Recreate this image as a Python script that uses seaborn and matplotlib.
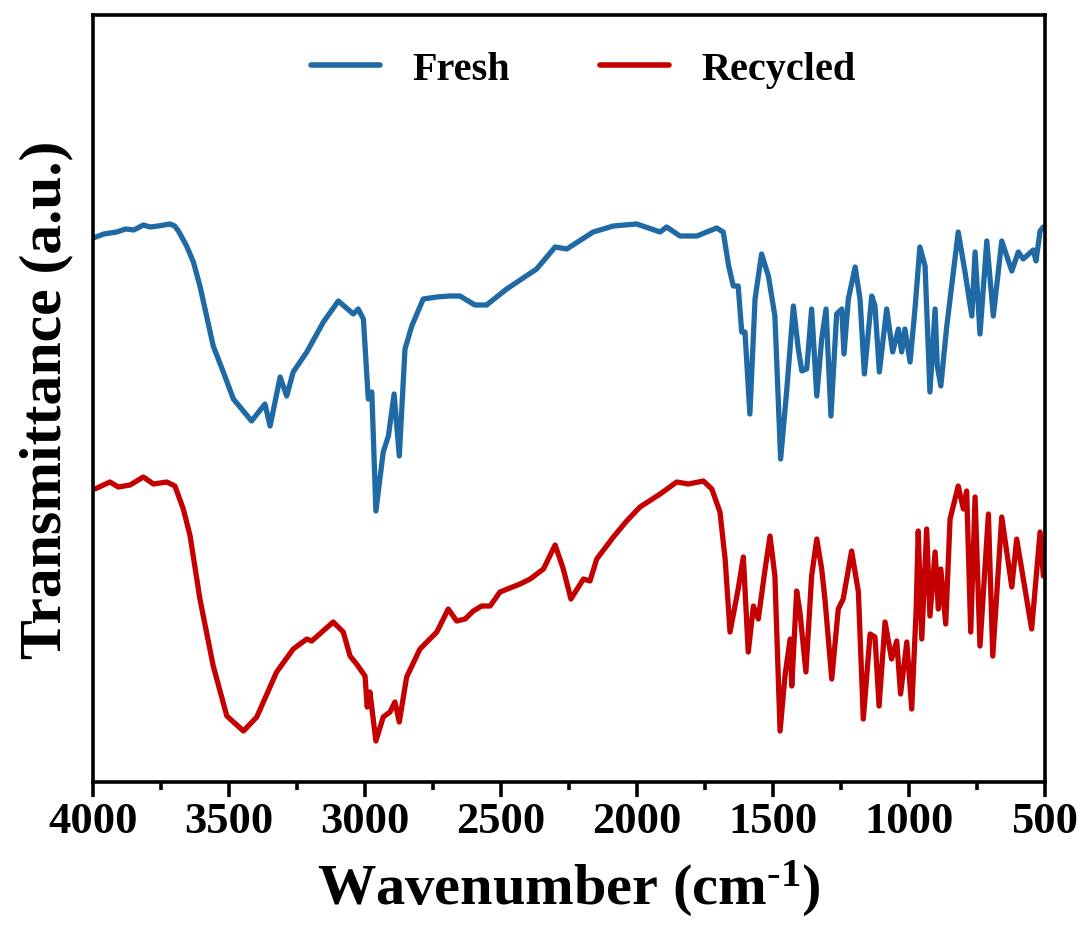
import matplotlib
matplotlib.use("Agg")
import matplotlib.pyplot as plt
from matplotlib.ticker import MultipleLocator
import pandas as pd
import seaborn as sns

# FTIR spectra: wavenumber (cm^-1) and transmittance (a.u.)
fresh_wn = [3999, 3960, 3913, 3880, 3850, 3815, 3790, 3760, 3717, 3700, 3686, 3656, 3631, 3607,
            3558, 3521, 3484, 3417, 3368, 3349, 3312, 3288, 3264, 3214, 3153, 3098,
            3043, 3025, 3006, 2988, 2975, 2960, 2933, 2914, 2893, 2874, 2853, 2828,
            2786, 2736, 2687, 2651, 2596, 2553, 2479, 2369, 2301, 2258, 2161, 2087,
            2001, 1915, 1891, 1842, 1780, 1707, 1683, 1663, 1646, 1628, 1615, 1603,
            1585, 1566, 1542, 1517, 1493, 1472, 1450, 1425, 1407, 1394, 1376, 1358,
            1339, 1321, 1305, 1287, 1266, 1247, 1239, 1223, 1198, 1180, 1164, 1137,
            1125, 1109, 1082, 1060, 1039, 1027, 1015, 996, 978, 960, 941, 923, 904,
            896, 883, 861, 819, 794, 769, 757, 739, 714, 690, 659, 622, 598, 580,
            543, 533, 518, 506]
fresh_t = [54.4, 54.8, 55.0, 55.3, 55.2, 55.7, 55.5, 55.6, 55.8, 55.6, 55.1, 53.6, 52.0, 49.6,
           43.6, 41.0, 38.3, 36.1, 37.8, 35.6, 40.5, 38.6, 41.0, 43.0, 46.0, 48.1,
           46.8, 47.3, 46.3, 38.3, 39.0, 27.1, 33.0, 34.6, 38.8, 32.6, 43.3, 45.6,
           48.3, 48.5, 48.6, 48.6, 47.7, 47.7, 49.3, 51.3, 53.5, 53.3, 55.0, 55.6,
           55.8, 55.0, 55.5, 54.6, 54.6, 55.4, 55.0, 51.6, 49.6, 49.6, 45.0, 45.0,
           36.8, 48.3, 52.8, 50.6, 46.6, 32.3, 39.0, 47.6, 43.3, 41.1, 41.3, 47.3,
           38.6, 44.3, 47.3, 36.6, 46.8, 47.3, 42.8, 48.3, 51.5, 48.3, 40.8, 48.6,
           47.6, 41.0, 47.3, 43.0, 45.3, 43.0, 45.3, 42.0, 47.3, 53.5, 51.6, 39.0, 47.3,
           41.6, 39.6, 45.6, 55.0, 51.0, 46.6, 53.0, 44.8, 54.1, 46.6, 54.1, 51.1, 53.0, 52.3,
           53.2, 52.1, 55.1, 55.5]

recycled_wn = [3993, 3938, 3907, 3864, 3815, 3778, 3729, 3699, 3668, 3643, 3607, 3558,
               3508, 3447, 3398, 3325, 3264, 3214, 3196, 3117, 3080, 3055, 3031, 3000,
               2992, 2982, 2960, 2933, 2908, 2890, 2874, 2847, 2798, 2736, 2694, 2663,
               2632, 2602, 2571, 2540, 2504, 2430, 2393, 2344, 2301, 2271, 2243, 2197,
               2173, 2148, 2087, 2038, 1989, 1915, 1854, 1811, 1756, 1725, 1695, 1676,
               1658, 1628, 1609, 1591, 1572, 1554, 1529, 1511, 1493, 1474, 1456, 1437,
               1431, 1413, 1401, 1379, 1358, 1339, 1321, 1309, 1284, 1260, 1242, 1211,
               1186, 1168, 1143, 1125, 1110, 1088, 1064, 1045, 1031, 1008, 990, 974,
               966, 953, 935, 923, 904, 892, 883, 865, 849, 819, 800, 788, 773, 757,
               739, 708, 692, 659, 622, 604, 549, 518, 506]
recycled_t = [29.3, 30.0, 29.5, 29.7, 30.5, 29.8, 30.0, 29.6, 27.3, 24.6, 18.3, 11.6,
              6.6, 5.1, 6.5, 11.0, 13.3, 14.3, 14.1, 16.0, 15.0, 12.6, 11.8, 10.6,
              7.5, 9.0, 4.1, 6.5, 7.0, 8.0, 6.0, 10.5, 13.3, 15.0, 17.3, 16.1,
              16.3, 17.1, 17.6, 17.6, 19.0, 19.8, 20.3, 21.3, 23.7, 21.3, 18.3, 20.3,
              20.1, 22.3, 24.5, 26.1, 27.5, 28.8, 30.0, 29.8, 30.1, 29.3, 27.0, 22.3,
              15.0, 19.3, 22.5, 13.0, 17.6, 16.3, 21.3, 24.6, 20.6, 5.1, 10.6, 14.3,
              9.6, 19.1, 17.0, 11.0, 20.6, 24.3, 21.3, 18.3, 10.3, 17.3, 18.3, 23.1,
              19.0, 6.3, 14.8, 14.5, 7.6, 16.0, 12.3, 14.1, 8.8, 14.0, 7.3, 17.0,
              25.1, 14.3, 25.3, 16.6, 23.0, 17.3, 21.3, 15.8, 26.3, 29.6, 27.3, 29.1, 15.0, 28.5,
              13.6, 26.8, 12.6, 26.5, 19.5, 24.3, 15.3, 25.0, 20.6]

series_names = ["Fresh", "Recycled"]
series_colors = ["#1f6aa5", "#c40000"]

df = pd.concat([
    pd.DataFrame({"wn": fresh_wn, "t": fresh_t, "sample": series_names[0]}),
    pd.DataFrame({"wn": recycled_wn, "t": recycled_t, "sample": series_names[1]}),
], ignore_index=True)

sns.set_style("white")
plt.rcParams["font.family"] = ["Liberation Serif", "DejaVu Serif"]
plt.rcParams["font.weight"] = "bold"
plt.rcParams["text.color"] = "black"
plt.rcParams["axes.labelcolor"] = "black"
plt.rcParams["xtick.color"] = "black"
plt.rcParams["mathtext.fontset"] = "custom"
plt.rcParams["mathtext.rm"] = "Liberation Serif:bold"
plt.rcParams["mathtext.bf"] = "Liberation Serif:bold"
plt.rcParams["mathtext.it"] = "Liberation Serif:bold"

fig = plt.figure(figsize=(10.83, 9.45), dpi=100)
ax = fig.add_axes([0.0859, 0.1714, 0.8790, 0.8117])

sns.lineplot(data=df, x="wn", y="t", hue="sample", palette=dict(zip(series_names, series_colors)),
             sort=False, estimator=None, linewidth=3.8, ax=ax)

ax.set_xlim(4000, 500)
ax.set_ylim(0, 76.7)
ax.xaxis.set_major_locator(MultipleLocator(500))
ax.xaxis.set_minor_locator(MultipleLocator(250))
ax.set_yticks([])
ax.tick_params(axis="x", which="major", direction="out", length=11, width=2.6,
               labelsize=32, pad=3, bottom=True, colors="black")
ax.tick_params(axis="x", which="minor", direction="out", length=6, width=2.6, bottom=True,
               colors="black")
for lab in ax.get_xticklabels():
    lab.set_fontweight("bold")
for s in ax.spines.values():
    s.set_linewidth(2.6)
    s.set_color("black")

ax.set_xlabel("Wavenumber (cm$^{\\text{-1}}$)", fontsize=42, fontweight="bold", labelpad=12)
ax.set_ylabel("Transmittance (a.u.)", fontsize=43, fontweight="bold", labelpad=14)

leg = ax.legend(loc="upper center", ncol=2, frameon=False, fontsize=29,
                handlelength=1.7, columnspacing=2.25, handletextpad=0.8,
                bbox_to_anchor=(0.515, 0.995), borderaxespad=0.4)
for txt in leg.get_texts():
    txt.set_fontweight("bold")
    txt.set_color("black")
for line in leg.get_lines():
    line.set_linewidth(4.0)

fig.savefig("out.png", dpi=100)
